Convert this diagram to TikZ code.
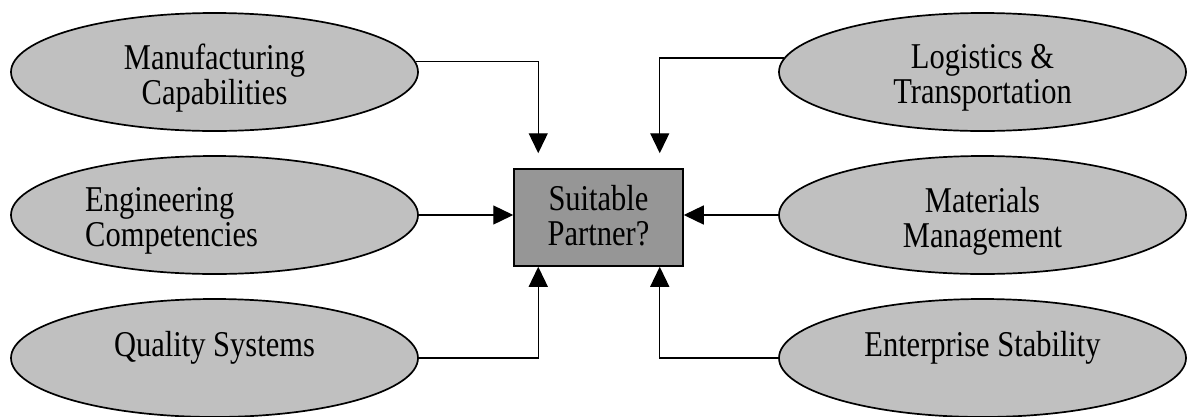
\documentclass[tikz,border=0pt]{standalone}
\usepackage{fontspec}
\setmainfont{Liberation Serif}[FakeStretch=0.84]
\usetikzlibrary{shapes.geometric,arrows.meta}
\definecolor{ellfill}{RGB}{192,192,192}
\definecolor{boxfill}{RGB}{150,150,150}
\begin{document}
\begin{tikzpicture}[x=1pt,y=-1pt,
  oval/.style={ellipse,draw,line width=1.7pt,fill=ellfill,minimum width=407pt,minimum height=118pt,inner sep=0pt},
  lbl/.style={inner sep=0pt,align=center,font=\fontsize{36.3}{35}\selectfont},
  lbll/.style={inner sep=0pt,align=left,font=\fontsize{36.3}{35}\selectfont},
  decide/.style={rectangle,draw,line width=1.5pt,fill=boxfill,minimum width=169pt,minimum height=97pt,inner sep=0pt},
  conn/.style={line width=1.3pt,-{Triangle[length=20pt,width=19pt]}}]
\clip (0,0) rectangle (1188,416);
% ellipses
\node[oval] (mfg)  at (214.5,72)  {};
\node[oval] (eng)  at (214.5,215) {};
\node[oval] (qual) at (214.5,358) {};
\node[oval] (log)  at (982.5,72)  {};
\node[oval] (mat)  at (982.5,215) {};
\node[oval] (ent)  at (982.5,358) {};
% central box
\node[decide] (box) at (598.5,217.5) {};
% labels
\node[lbl] (mfgt) at (214.5,78) {Manufacturing\\Capabilities};
\node[lbll,anchor=west] (engt) at (85,221) {Engineering\\Competencies};
\node[lbl,anchor=base] (qualt) at (214.5,356.5) {Quality Systems};
\node[lbl] (logt) at (982.5,78) {Logistics \&\\Transportation};
\node[lbl] (matt) at (982.5,221) {Materials\\Management};
\node[lbl,anchor=base] (entt) at (982.5,356.5) {Enterprise Stability};
\node[lbl] (boxt) at (598.5,216) {Suitable\\Partner?};
% arrow ends above the box
\coordinate (ta) at ([xshift=25pt,yshift=15pt]box.north west);
\coordinate (tb) at ([xshift=-24pt,yshift=15pt]box.north east);
% connectors
\draw[conn] (mfg.3.7) -| (ta);
\draw[conn] (log.176.3) -| (tb);
\draw[conn] (eng.east) -- (eng.east -| box.west);
\draw[conn] (mat.west) -- (mat.west -| box.east);
\draw[conn] (qual.east) -| ([xshift=25pt]box.south west);
\draw[conn] (ent.west) -| ([xshift=-24pt]box.south east);
\end{tikzpicture}
\end{document}
